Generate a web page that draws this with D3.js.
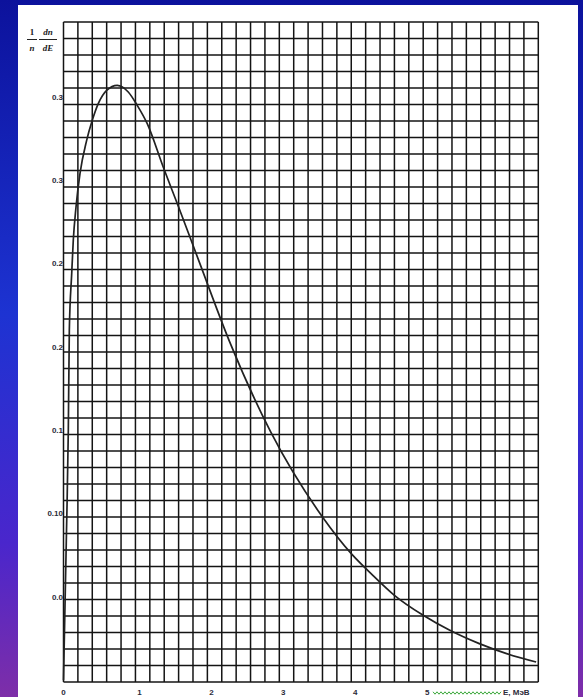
<!DOCTYPE html>
<html>
<head>
<meta charset="utf-8">
<title>Fission neutron spectrum</title>
<script src="https://d3js.org/d3.v7.min.js"></script>
<style>
  html, body { margin: 0; padding: 0; }
  svg { display: block; }
</style>
</head>
<body>
<script>
// curve
const energy = [0, 0.042, 0.067, 0.081, 0.114, 0.136, 0.174, 0.229, 0.322, 0.40, 0.483, 0.60, 0.747,
                0.90, 1.025, 1.164, 1.386, 1.60, 1.896, 2.32, 2.88, 3.60, 4.0, 4.3, 4.60, 5.0, 5.37, 5.78, 6.16, 6.57];
const density = [0, 0.090, 0.150, 0.210, 0.244, 0.264, 0.284, 0.304, 0.324, 0.336, 0.346, 0.354, 0.357,
                 0.353, 0.345, 0.334, 0.308, 0.284, 0.250, 0.202, 0.149, 0.098, 0.076, 0.063, 0.051, 0.039, 0.030, 0.022, 0.016, 0.011];

// tick labels as they appear
const yTickValues = [0.35, 0.30, 0.25, 0.20, 0.15, 0.10, 0.05];
const yTickLabels = ["0.3", "0.3", "0.2", "0.2", "0.1", "0.10", "0.0"];
const xTickValues = [0, 1, 2, 3, 4, 5];
const xTickLabels = ["0", "1", "2", "3", "4", "5"];

const width = 583, height = 697;

const svg = d3.select("body").append("svg")
    .attr("width", width)
    .attr("height", height);

const defs = svg.append("defs");
const grad = defs.append("linearGradient")
    .attr("id", "bg")
    .attr("x1", 0).attr("y1", 0).attr("x2", 0).attr("y2", 1);
grad.append("stop").attr("offset", "0%").attr("stop-color", "#0c129c");
grad.append("stop").attr("offset", "45%").attr("stop-color", "#1d33d2");
grad.append("stop").attr("offset", "78%").attr("stop-color", "#4a26cc");
grad.append("stop").attr("offset", "100%").attr("stop-color", "#7e2ea8");

svg.append("rect")
    .attr("width", width).attr("height", height)
    .attr("fill", "url(#bg)");

// white sheet
svg.append("rect")
    .attr("x", 18).attr("y", 5)
    .attr("width", 560).attr("height", height - 5)
    .attr("fill", "#ffffff");

// scales
const x = d3.scaleLinear().domain([0, 6.6]).range([63.5, 538.3]);
const y = d3.scaleLinear().domain([0, 0.35]).range([680.3, 97]);
const yGrid = d3.scaleLinear().domain([0, 40]).range([682, 22]);

// grid
const grid = svg.append("g")
    .attr("stroke", "#141414")
    .attr("stroke-width", 1.5);

grid.selectAll("line.v")
    .data(d3.range(0, 34).map(i => i * 0.2))
    .join("line")
    .attr("class", "v")
    .attr("x1", d => x(d)).attr("x2", d => x(d))
    .attr("y1", yGrid(0)).attr("y2", yGrid(40));

grid.selectAll("line.h")
    .data(d3.range(0, 41))
    .join("line")
    .attr("class", "h")
    .attr("x1", x(0)).attr("x2", x(6.6))
    .attr("y1", d => yGrid(d)).attr("y2", d => yGrid(d));

// curve
const line = d3.line()
    .x((d, i) => x(energy[i]))
    .y(d => y(d))
    .curve(d3.curveMonotoneX);

svg.append("path")
    .datum(density)
    .attr("fill", "none")
    .attr("stroke", "#222")
    .attr("stroke-width", 1.7)
    .attr("d", line);

// labels
const labelFont = "'Liberation Sans', Arial, sans-serif";

svg.append("g").selectAll("text")
    .data(yTickValues)
    .join("text")
    .attr("x", 63)
    .attr("y", d => y(d))
    .attr("dy", "0.35em")
    .attr("text-anchor", "end")
    .attr("font-family", labelFont)
    .attr("font-size", 8)
    .attr("font-weight", "bold")
    .attr("fill", "#2b2b3a")
    .text((d, i) => yTickLabels[i]);

svg.append("g").selectAll("text")
    .data(xTickValues)
    .join("text")
    .attr("x", d => x(d) + (d === 0 ? 0 : 4))
    .attr("y", 692)
    .attr("dy", "0.35em")
    .attr("text-anchor", "middle")
    .attr("font-family", labelFont)
    .attr("font-size", 8)
    .attr("font-weight", "bold")
    .attr("fill", "#2b2b3a")
    .text((d, i) => xTickLabels[i]);

// spell-check squiggle between "5" and the unit
const wave = d3.range(433, 502, 2).map((px, i) => [px, 693 + (i % 2 ? 1.2 : -1.2)]);
svg.append("path")
    .attr("d", d3.line()(wave))
    .attr("fill", "none")
    .attr("stroke", "#3aa83a")
    .attr("stroke-width", 1);

svg.append("text")
    .attr("x", 503)
    .attr("y", 692)
    .attr("dy", "0.35em")
    .attr("font-family", labelFont)
    .attr("font-size", 8)
    .attr("font-weight", "bold")
    .attr("fill", "#2b2b3a")
    .text("E, МэВ");

// y-axis title: 1/n dn/dE
const title = svg.append("g")
    .attr("font-family", "'Liberation Serif', 'DejaVu Serif', serif")
    .attr("font-style", "italic")
    .attr("font-weight", "bold")
    .attr("font-size", 9)
    .attr("fill", "#222")
    .attr("text-anchor", "middle");

title.append("text").attr("x", 32).attr("y", 35).attr("font-style", "normal").text("1");
title.append("text").attr("x", 48).attr("y", 35).text("dn");
title.append("text").attr("x", 32).attr("y", 51).text("n");
title.append("text").attr("x", 48).attr("y", 51).text("dE");
title.append("line").attr("x1", 27).attr("x2", 37).attr("y1", 39.5).attr("y2", 39.5)
    .attr("stroke", "#222").attr("stroke-width", 1);
title.append("line").attr("x1", 39).attr("x2", 57).attr("y1", 39.5).attr("y2", 39.5)
    .attr("stroke", "#222").attr("stroke-width", 1);
</script>
</body>
</html>
